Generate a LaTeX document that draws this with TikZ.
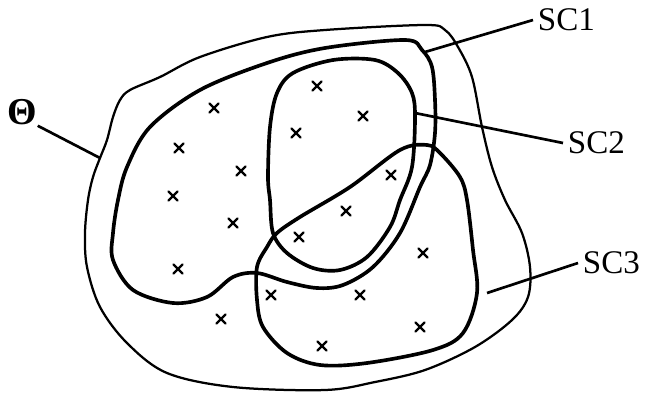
\documentclass[tikz,border=0pt]{standalone}
\usepackage{fontspec}
\setmainfont{Liberation Serif}
\usetikzlibrary{positioning}

\begin{document}
\begin{tikzpicture}[
    x=0.025cm, y=-0.025cm,
    outerline/.style={line width=1.6pt, line join=round},
    setline/.style={line width=2.6pt, line join=round},
    leader/.style={line width=1.9pt},
    xmark/.style={line width=1.6pt, line cap=round},
    setlabel/.style={font=\fontsize{23.5}{28}\selectfont, anchor=west}
]
    \useasboundingbox (0,0) rectangle (649,396);

    % Outer region - Theta
    \draw[outerline] plot[smooth cycle, tension=0.55] coordinates {
        (88,200) (93,177) (100,158) (107,140) (113,117) (120,100) (130,90)
        (160,77) (200,57) (267,37) (325,30)
        (425,25) (445,30) (458,47) (472,77) (482,127) (492,167) (505,200)
        (522,233) (530,267) (528,297) (512,320) (475,347) (425,370)
        (375,382) (325,390) (233,387) (167,373) (127,343) (100,307)
        (87,267) (85,233)};

    % SC1 - large set
    \draw[setline] plot[smooth cycle, tension=0.55] coordinates {
        (118,200) (127,167) (150,127) (200,90) (267,63) (325,48) (405,40)
        (422,50) (432,67) (435,100) (435,133) (430,165) (420,187) (400,233)
        (373,267) (343,285) (317,288) (287,282) (257,273) (233,277)
        (207,297) (173,303) (133,290) (113,260) (113,233)};

    % SC2 - upper set
    \draw[setline] plot[smooth cycle, tension=0.55] coordinates {
        (333,60) (375,60) (398,73) (412,93) (415,117) (412,167) (400,200)
        (390,227) (367,257) (340,270) (313,268) (287,253) (273,233)
        (270,200) (268,177) (270,127) (277,93) (293,73)};

    % SC3 - lower set
    \draw[setline] plot[smooth cycle, tension=0.55] coordinates {
        (257,267) (267,247) (277,233) (300,217) (350,187) (400,150)
        (427,145) (440,153) (460,177) (467,200) (473,250) (477,293)
        (463,333) (433,350) (367,363) (320,365) (287,353) (263,327)
        (257,300)};

    % Sample points
    \foreach \x/\y in {317/86, 214/108, 363/116, 296/133, 179/148, 241/171,
                       391/175, 173/196, 346/211, 233/223, 299/237, 423/253,
                       178/269, 271/295, 360/295, 221/319, 420/327, 322/346}
        \draw[xmark] (\x-4.5,\y-4.5) -- (\x+4.5,\y+4.5)
                     (\x-4.5,\y+4.5) -- (\x+4.5,\y-4.5);

    % Labels and leader lines
    \coordinate (thetaend) at (100,158);
    \coordinate (sc1end) at (425,52);
    \coordinate (sc2end) at (415,113);
    \coordinate (sc3end) at (487,293);

    \node[setlabel, font=\fontsize{27}{30}\selectfont\bfseries, anchor=center, inner sep=0.5pt] (theta) at (22,112) {Θ};
    \node[setlabel] (sc1) at (533,20) {SC1};
    \node[setlabel] (sc2) at (563,143) {SC2};
    \node[setlabel] (sc3) at (578,263) {SC3};

    \draw[leader] (theta.south east) -- (thetaend);
    \draw[leader] (sc1end) -- (sc1.west);
    \draw[leader] (sc2end) -- (sc2.west);
    \draw[leader] (sc3end) -- (sc3.west);

\end{tikzpicture}
\end{document}
